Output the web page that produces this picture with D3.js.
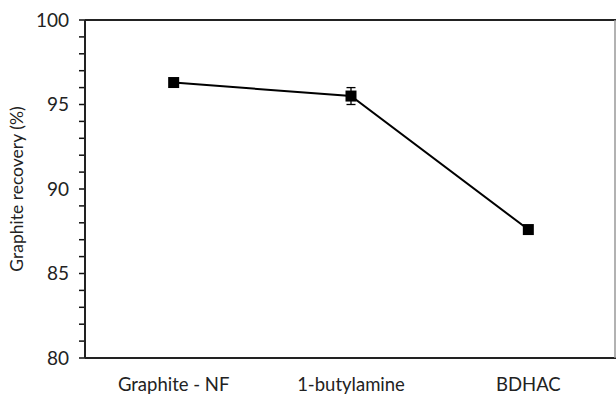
<!DOCTYPE html>
<html><head><meta charset="utf-8">
<script src="https://cdn.jsdelivr.net/npm/d3@7"></script>
<style>body{margin:0;background:#fff}svg{display:block}text{font-family:Lato,"Open Sans",sans-serif;fill:#222}</style>
</head><body><svg id="c" width="616" height="394"></svg>
<script>
const categories = ["Graphite - NF", "1-butylamine", "BDHAC"];
const recovery = [96.3, 95.5, 87.6];
const errors = [0.15, 0.5, 0.1];
const yTicks = [80, 85, 90, 95, 100];

const svg = d3.select("#c");
const L = 85, T = 20, B = 358, R = 617;
const x = d3.scaleBand().domain(categories).range([L, R]);
const y = d3.scaleLinear().domain([80, 100]).range([B, T]);
const cx = d => x(d) + x.bandwidth() / 2;

// ticks (minor every 1, major every 5)
svg.append("g").selectAll("rect").data(d3.range(80, 101, 1)).join("rect")
  .attr("x", L - 6).attr("y", d => y(d) - 0.75).attr("width", 6).attr("height", 1.5)
  .attr("fill", "#111");
// labels
svg.append("g").attr("transform", `translate(${L},0)`)
  .call(d3.axisLeft(y).tickValues(yTicks).tickSize(0).tickPadding(16))
  .call(g => g.select(".domain").remove())
  .call(g => g.selectAll("text").attr("font-size", 19).attr("font-family", "Lato").attr("fill", "#222"));

// frame
svg.append("line").attr("x1", L).attr("x2", L).attr("y1", T).attr("y2", B).attr("stroke", "#222").attr("stroke-width", 2);
svg.append("line").attr("x1", L).attr("x2", 616).attr("y1", B).attr("y2", B).attr("stroke", "#222").attr("stroke-width", 2);
svg.append("line").attr("x1", L).attr("x2", 616).attr("y1", T).attr("y2", T).attr("stroke", "#222").attr("stroke-width", 2);
svg.append("line").attr("x1", 615).attr("x2", 615).attr("y1", T).attr("y2", B).attr("stroke", "#999").attr("stroke-width", 1.5);

// x labels
svg.append("g").attr("transform", `translate(0,${B})`)
  .call(d3.axisBottom(x).tickSize(0).tickPadding(20))
  .call(g => g.select(".domain").remove())
  .call(g => g.selectAll("text").attr("font-size", 18.5).attr("font-family", "Lato").attr("fill", "#222"));

// y title
svg.append("text").attr("transform", `translate(23,${(T + B) / 2}) rotate(-90)`)
  .attr("text-anchor", "middle").attr("font-size", 17.5).text("Graphite recovery (%)");

const data = categories.map((c, i) => ({c, v: recovery[i], e: errors[i]}));

svg.append("path").datum(data)
  .attr("d", d3.line().x(d => cx(d.c)).y(d => y(d.v)))
  .attr("fill", "none").attr("stroke", "#000").attr("stroke-width", 2);

const eb = svg.append("g").selectAll("g").data(data).join("g").attr("stroke", "#000").attr("stroke-width", 1.3);
eb.append("line").attr("x1", d => cx(d.c)).attr("x2", d => cx(d.c)).attr("y1", d => y(d.v - d.e)).attr("y2", d => y(d.v + d.e));
eb.append("line").attr("x1", d => cx(d.c) - 4.5).attr("x2", d => cx(d.c) + 4.5).attr("y1", d => y(d.v - d.e)).attr("y2", d => y(d.v - d.e));
eb.append("line").attr("x1", d => cx(d.c) - 4.5).attr("x2", d => cx(d.c) + 4.5).attr("y1", d => y(d.v + d.e)).attr("y2", d => y(d.v + d.e));

svg.append("g").selectAll("rect").data(data).join("rect")
  .attr("x", d => cx(d.c) - 5.5).attr("y", d => y(d.v) - 5.5)
  .attr("width", 11).attr("height", 11).attr("fill", "#000");
</script></body></html>
